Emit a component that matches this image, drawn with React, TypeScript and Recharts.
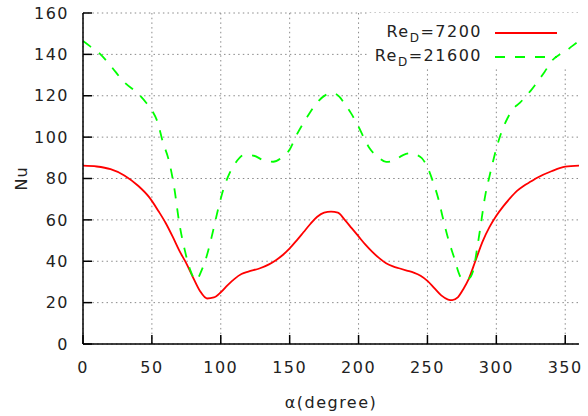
import React from 'react';
import { LineChart, Line, XAxis, YAxis, CartesianGrid, ReferenceArea, Legend } from 'recharts';

const redAngles = [0, 10, 20, 30, 40, 48, 55, 60, 65, 70, 75, 80, 85, 90, 95, 100, 105, 110, 115, 120, 128, 135, 140, 145, 150, 155, 160, 165, 170, 175, 180, 185, 190, 195, 200, 205, 210, 215, 220, 225, 230, 235, 240, 245, 250, 255, 260, 265, 268, 272, 276, 280, 285, 290, 295, 300, 305, 310, 315, 320, 325, 330, 340, 350, 360];
const redNu = [86.2, 85.8, 84.5, 81.5, 76.5, 71, 64, 58.5, 52, 45, 39, 32, 25.5, 22, 22.5, 25, 28.5, 31.5, 33.8, 35, 36.5, 38.5, 40.5, 43, 46.2, 50, 54, 58, 61.5, 63.5, 64, 63.5, 60, 56, 52, 48, 44.5, 41.5, 39, 37.5, 36.5, 35.5, 34.5, 33, 30.5, 27, 23.5, 21.5, 21.2, 22.5, 26.5, 31.5, 40.5, 49.5, 56.5, 62, 66.5, 70.5, 74, 76.5, 78.5, 80.5, 83.5, 85.7, 86.2];

const greenAngles = [0, 5, 12, 20, 30, 40, 46, 50, 54, 58, 62, 66, 70, 74, 78, 82, 86, 90, 94, 98, 102, 106, 110, 117, 124, 131, 138, 144, 150, 155, 162, 170, 176, 181, 186, 190, 194.5, 200, 204, 208, 214, 220, 226, 232, 237, 242, 246, 250, 254, 258, 261, 265, 269, 274, 277, 280, 283, 286, 288, 292, 295, 297.5, 300, 303, 308, 312, 317, 321, 325, 329, 335, 341, 346, 350, 355, 360];
const greenNu = [146.5, 144, 140.5, 134.5, 126.5, 121, 116.5, 113, 107.5, 97.5, 89.5, 76.5, 58, 45, 35.5, 30.8, 35.5, 43, 53.5, 65, 75, 82, 86.8, 91.4, 91, 88.8, 88.1, 90, 94, 101, 109, 116.8, 120.3, 121.3, 119.6, 116, 111.6, 105, 99.5, 94.6, 90.5, 88, 88.8, 91.2, 92.2, 91.5, 89.8, 85.5, 78.5, 70, 61.5, 51, 42.5, 32.4, 30.8, 31.5, 35, 46, 54.5, 72, 81, 88, 94.5, 101, 109, 113.5, 116.5, 119.5, 122.5, 126, 131.5, 137.4, 140, 141.4, 144, 146.5];

const xTicks = [0, 50, 100, 150, 200, 250, 300, 350];
const yTicks = [0, 20, 40, 60, 80, 100, 120, 140, 160];
const seriesLabels = ['7200', '21600'];
const seriesColors = ['#ff0000', '#00ff00'];

const redData = redAngles.map((a, i) => ({ a, nu: redNu[i] }));
const greenData = greenAngles.map((a, i) => ({ a, nu: greenNu[i] }));

const FONT = 'DejaVu Sans';
const TEXT = '#222';
const TICK_LEN = 9;
const BOTTOM_GAP = 18;
const LEFT_GAP = 14;
const lineStyle = { stroke: '#000', strokeWidth: 1.5 };

function BottomTick(p: any) {
  const ax = p.y - BOTTOM_GAP;
  return (
    <g>
      <line x1={p.x} x2={p.x} y1={ax} y2={ax - TICK_LEN} {...lineStyle} />
      <text x={p.x} y={p.y} dy="0.71em" textAnchor="middle" fill={TEXT} fontSize={16} fontFamily={FONT} style={{ letterSpacing: '1.5px' }}>
        {p.payload.value}
      </text>
    </g>
  );
}

function LeftTick(p: any) {
  const ax = p.x + LEFT_GAP;
  return (
    <g>
      <line x1={ax} x2={ax + TICK_LEN} y1={p.y} y2={p.y} {...lineStyle} />
      <text x={p.x} y={p.y} dy="0.355em" textAnchor="end" fill={TEXT} fontSize={16} fontFamily={FONT} style={{ letterSpacing: '1.5px' }}>
        {p.payload.value}
      </text>
    </g>
  );
}

function TopTick(p: any) {
  return <line x1={p.x} x2={p.x} y1={p.y} y2={p.y + TICK_LEN} {...lineStyle} />;
}

function RightTick(p: any) {
  return <line x1={p.x} x2={p.x - TICK_LEN} y1={p.y} y2={p.y} {...lineStyle} />;
}

function LegendContent() {
  const rows = [
    { label: seriesLabels[0], color: seriesColors[0], dash: undefined, cy: 20 },
    { label: seriesLabels[1], color: seriesColors[1], dash: '10 10', cy: 43.7 },
  ];
  return (
    <div style={{ position: 'relative', width: 210, height: 55, fontFamily: FONT, fontSize: 16, letterSpacing: '1.5px', color: TEXT }}>
      {rows.map((r) => (
        <React.Fragment key={r.label}>
          <div style={{ position: 'absolute', right: 97, top: r.cy - 11, lineHeight: '20px', whiteSpace: 'nowrap' }}>
            Re<span style={{ fontSize: 12, position: 'relative', top: 5 }}>D</span>={r.label}
          </div>
          <svg style={{ position: 'absolute', left: 126, top: r.cy - 5 }} width={62} height={10}>
            <line x1={0} y1={5} x2={62} y2={5} stroke={r.color} strokeWidth={1.8} strokeDasharray={r.dash} />
          </svg>
        </React.Fragment>
      ))}
    </div>
  );
}

export default function App() {
  return (
    <div style={{ position: 'absolute', left: 0, top: 0, width: 588, height: 416, background: '#fff' }}>
      <LineChart width={588} height={416} margin={{ top: 13, right: 9, left: 0, bottom: 0 }}>
        <CartesianGrid stroke="#8a8a8a" strokeDasharray="1.5 3.2" strokeWidth={1} verticalValues={xTicks} horizontalValues={yTicks} />
        <ReferenceArea x1={207.6} x2={360} y1={133.5} y2={160} fill="#fff" fillOpacity={1} stroke="none" ifOverflow="hidden" />
        <Line data={redData} dataKey="nu" type="monotone" stroke={seriesColors[0]} strokeWidth={1.8} dot={false} isAnimationActive={false} name={seriesLabels[0]} />
        <Line data={greenData} dataKey="nu" type="monotone" stroke={seriesColors[1]} strokeWidth={1.8} strokeDasharray="10 10" dot={false} isAnimationActive={false} name={seriesLabels[1]} />
        <XAxis
          dataKey="a"
          type="number"
          domain={[0, 360]}
          ticks={xTicks}
          height={72}
          tickSize={0}
          tickMargin={BOTTOM_GAP}
          tick={BottomTick}
          tickLine={false}
          axisLine={lineStyle}
          allowDataOverflow
          label={(props: any) => {
            const vb = props.viewBox || { x: 83, width: 496 };
            return (
              <text x={vb.x + vb.width / 2} y={407.7} textAnchor="middle" fill={TEXT} fontSize={16} fontFamily={FONT} style={{ letterSpacing: '1.5px' }}>
                α(degree)
              </text>
            );
          }}
        />
        <XAxis
          xAxisId="top"
          orientation="top"
          type="number"
          domain={[0, 360]}
          ticks={xTicks}
          height={0}
          tickSize={0}
          tickMargin={0}
          tick={TopTick}
          tickLine={false}
          axisLine={lineStyle}
        />
        <YAxis
          type="number"
          domain={[0, 160]}
          ticks={yTicks}
          width={83}
          tickSize={0}
          tickMargin={LEFT_GAP}
          tick={LeftTick}
          tickLine={false}
          axisLine={lineStyle}
          allowDataOverflow
          label={() => (
            <text x={0} y={0} transform="translate(27, 178.5) rotate(-90)" textAnchor="middle" fill={TEXT} fontSize={16} fontFamily={FONT} style={{ letterSpacing: '1px' }}>
              Nu
            </text>
          )}
        />
        <YAxis
          yAxisId="right"
          orientation="right"
          type="number"
          domain={[0, 160]}
          ticks={yTicks}
          width={0}
          tickSize={0}
          tickMargin={0}
          tick={RightTick}
          tickLine={false}
          axisLine={lineStyle}
        />
        <Legend layout="vertical" align="center" verticalAlign="middle" content={<LegendContent />} wrapperStyle={{ left: 369, top: 13, width: 210, height: 55, bottom: 'auto', right: 'auto' }} />
      </LineChart>
    </div>
  );
}
